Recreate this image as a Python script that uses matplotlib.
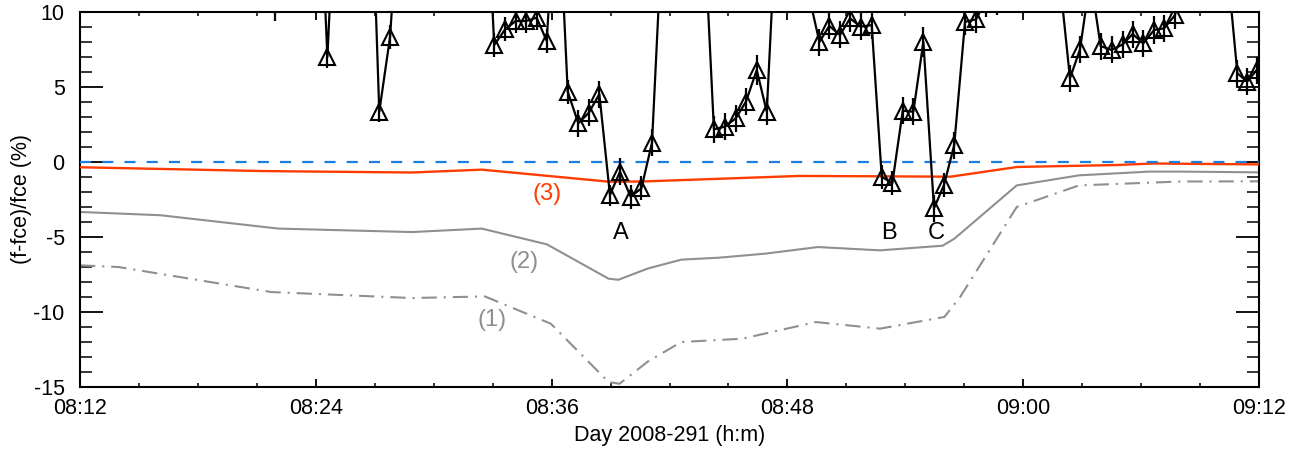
import matplotlib
matplotlib.use("Agg")
import matplotlib.pyplot as plt
from matplotlib.ticker import MultipleLocator, FuncFormatter

plt.rcParams["font.family"] = ["Liberation Sans", "DejaVu Sans"]
plt.rcParams["axes.unicode_minus"] = False
plt.rcParams["lines.scale_dashes"] = False

# minutes after 08:12
obs_t = [9.92, 12.06, 12.59, 13.13, 14.7, 15.23, 15.78, 16.31,
         20.55, 21.08, 21.64, 22.17, 22.7, 23.24, 23.75, 24.29,
         24.82, 25.36, 25.9, 26.43, 26.97, 27.48, 28.02, 28.57, 29.11, 29.65,
         31.73, 32.26, 32.82, 33.37, 33.89, 34.44, 34.95, 35.48,
         37.08, 37.63, 38.13, 38.68, 39.19, 39.73, 40.29, 40.8, 41.34, 41.87,
         42.41, 42.92, 43.46, 43.97, 44.49, 45.04, 45.6, 46.1, 46.65,
         49.85, 50.38, 50.89, 51.42, 51.94, 52.5, 53.06, 53.57, 54.11, 54.66,
         55.17, 55.73, 56.26, 58.37, 58.9, 59.4, 59.88, 60.4]
obs_v = [10.9, 23, 7.0, 22, 24, 3.35, 8.35, 19,
         22, 7.8, 8.85, 9.4, 9.4, 9.62, 8.07, 19.6,
         4.69, 2.58, 3.29, 4.53, -2.2, -0.64, -2.31, -1.76, 1.29, 15.9,
         16.5, 2.18, 2.36, 2.91, 4.02, 6.13, 3.35, 17.5,
         11.2, 8.0, 9.07, 8.47, 9.58, 9.02, 9.13, -0.98, -1.42, 3.42,
         3.35, 8.02, -3.09, -1.53, 1.13, 9.35, 9.51, 10.8, 10.9,
         12.3, 5.58, 7.51, 12.3, 7.73, 7.47, 7.84, 8.53, 7.91, 8.8,
         8.91, 9.8, 16, 13.3, 5.91, 5.36, 6.13, 7.0]
obs_err = [1.5, 1, 0.7, 1, 1, 0.7, 0.8, 1,
           1, 0.8, 0.8, 0.8, 0.8, 0.8, 0.8, 1,
           0.8, 0.9, 0.9, 0.9, 0.7, 0.9, 0.8, 0.8, 0.9, 1,
           1, 0.9, 0.9, 0.9, 0.9, 1.0, 0.9, 1,
           1, 0.9, 0.9, 0.9, 0.9, 0.9, 0.9, 0.8, 0.8, 0.9,
           0.9, 1.0, 0.9, 0.8, 0.9, 0.9, 0.9, 1.15, 1.1,
           1, 0.9, 0.9, 1, 0.9, 0.9, 0.9, 0.9, 0.9, 0.9,
           0.9, 0.9, 1, 1, 0.9, 0.9, 0.9, 0.9]

# model curve (3)
c3_t = [0, 9.16, 10.5, 16.9, 20.45, 26.9, 28.6, 36.6, 40.2, 44.3, 47.7, 52.8, 54.6, 60]
c3_v = [-0.35, -0.6, -0.62, -0.7, -0.51, -1.31, -1.3, -0.93, -0.95, -0.98, -0.33, -0.2, -0.1, -0.16]

# model curve (2)
c2_t = [0, 4.1, 10.1, 16.9, 20.45, 23.76, 26.9, 27.4, 28.9, 30.6, 32.5, 34.87,
        37.55, 40.72, 43.9, 44.5, 47.67, 50.84, 54.4, 56.0, 60]
c2_v = [-3.33, -3.55, -4.44, -4.67, -4.44, -5.49, -7.78, -7.85, -7.1, -6.51, -6.38, -6.11,
        -5.67, -5.89, -5.58, -5.11, -1.56, -0.89, -0.64, -0.64, -0.69]

# model curve (1)
c1_t = [0, 1.95, 9.74, 16.9, 20.6, 23.96, 26.9, 27.46, 28.9, 30.6, 33.7,
        37.45, 40.72, 43.99, 44.79, 47.67, 50.84, 56.0, 60]
c1_v = [-6.89, -7.0, -8.67, -9.07, -8.96, -10.78, -14.67, -14.78, -13.3, -12.0, -11.78,
        -10.67, -11.11, -10.33, -9.0, -3.0, -1.56, -1.3, -1.29]

x_ticks = [0, 12, 24, 36, 48, 60]


def hm(m, pos=None):
    tot = 8 * 60 + 12 + int(round(m))
    return "%02d:%02d" % (tot // 60, tot % 60)


fig = plt.figure(figsize=(13.09, 4.51), dpi=100)
ax = fig.add_axes([80 / 1309, 64 / 451, 1179 / 1309, 375 / 451])

ax.plot(c1_t, c1_v, color="#8f8f8f", lw=1.5, dashes=(11, 5, 1.5, 5), zorder=2)
ax.plot(c2_t, c2_v, color="#8f8f8f", lw=1.5, zorder=2)
ax.plot(c3_t, c3_v, color="#ff3c00", lw=1.7, zorder=3)
ax.axhline(0, color="#1a7fe0", lw=1.6, dashes=(8, 8), zorder=3)

ax.errorbar(obs_t, obs_v, yerr=obs_err, color="black", lw=1.6, elinewidth=1.6,
            capsize=0, marker="^", ms=11.5, mfc="none", mec="black", mew=1.5, zorder=4)

fs = 15.5
afs = 17
ax.text(23.75, -2.15, "(3)", color="#ff3c00", fontsize=afs, ha="center", va="center")
ax.text(22.6, -6.67, "(2)", color="#8f8f8f", fontsize=afs, ha="center", va="center")
ax.text(20.95, -10.55, "(1)", color="#8f8f8f", fontsize=afs, ha="center", va="center")
for lab, xt in [("A", 27.5), ("B", 41.15), ("C", 43.6)]:
    ax.text(xt, -4.75, lab, color="black", fontsize=afs, ha="center", va="center")

ax.set_xlim(0, 60)
ax.set_ylim(-15, 10)
ax.set_xticks(x_ticks)
ax.xaxis.set_major_formatter(FuncFormatter(hm))
ax.xaxis.set_minor_locator(MultipleLocator(3))
ax.yaxis.set_major_locator(MultipleLocator(5))
ax.yaxis.set_minor_locator(MultipleLocator(1))
ax.yaxis.set_major_formatter(FuncFormatter(lambda v, p: "%d" % v))

ax.tick_params(axis="both", which="both", direction="in", top=True, right=True, labelsize=fs)
ax.tick_params(axis="x", which="major", length=6, width=1.3, pad=8)
ax.tick_params(axis="x", which="minor", length=3, width=1.1)
ax.tick_params(axis="y", which="major", length=16.5, width=1.3, pad=11)
ax.tick_params(axis="y", which="minor", length=8.5, width=1.1)
for s in ax.spines.values():
    s.set_linewidth(1.5)

ax.set_xlabel("Day 2008-291 (h:m)", fontsize=fs, labelpad=4)
ax.set_ylabel("(f-fce)/fce (%)", fontsize=fs, labelpad=1)

fig.savefig("out.png", dpi=100)
